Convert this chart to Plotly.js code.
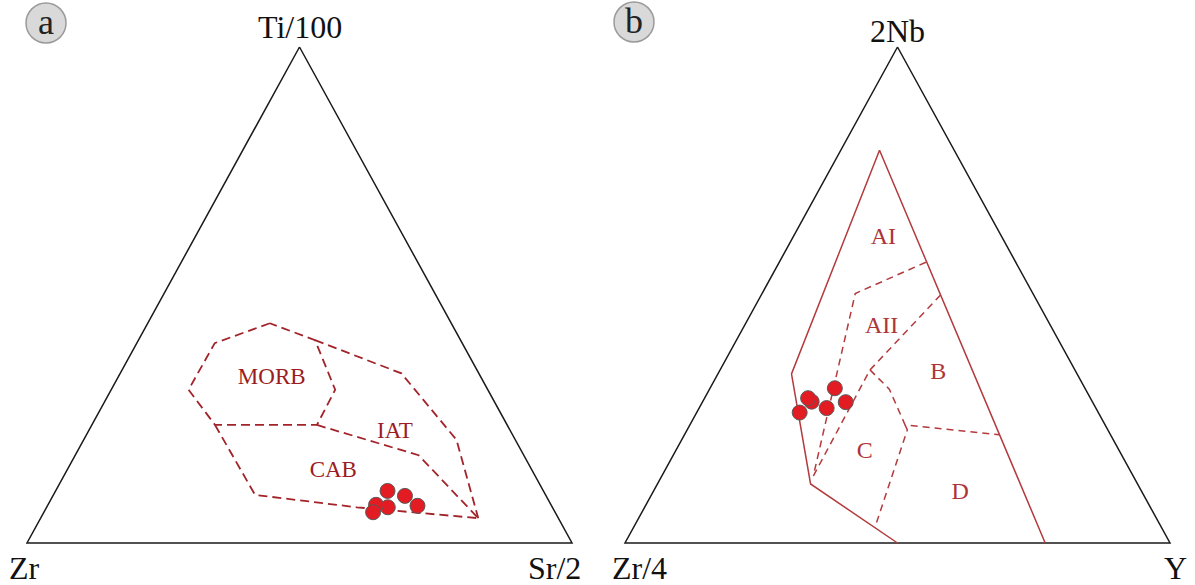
<!DOCTYPE html>
<html><head><meta charset="utf-8">
<script src="https://cdn.plot.ly/plotly-3.0.1.min.js"></script>
<style>html,body{margin:0;padding:0;background:#fff;} #chart{width:1195px;height:585px;}</style>
</head><body><div id="chart"></div>
<script>
// ---------- Panel a: Ti/100 – Zr – Sr/2 (percent: top, left, right) ----------
const cornersA = ['Ti/100', 'Zr', 'Sr/2'];
const sampleTiA = [10.5, 9.5, 7.5, 7.2, 7.7, 6.2];
const sampleZrA = [28.6, 25.9, 24.6, 30.2, 32.1, 33.4];
const sampleSrA = [60.9, 64.6, 67.9, 62.6, 60.2, 60.4];

const morbTi = [44.3, 40.3, 30.9, 23.8, 23.8, 30.9, 40.9, 44.3];
const morbZr = [33.3, 45.4, 54.9, 53.6, 34.9, 28.0, 26.7, 33.3];
const morbSr = [22.4, 14.3, 14.2, 22.6, 41.3, 41.1, 32.4, 22.4];

const iatOuterTi = [40.9, 34.2, 20.8, 5.0];
const iatOuterZr = [26.7, 14.2, 10.8, 14.7];
const iatOuterSr = [32.4, 51.6, 68.4, 80.3];

const iatCabTi = [23.8, 17.7, 5.0];
const iatCabZr = [34.9, 19.3, 14.7];
const iatCabSr = [41.3, 63.0, 80.3];

const cabOuterTi = [23.8, 9.7, 7.2, 5.0];
const cabOuterZr = [53.6, 53.3, 35.9, 14.7];
const cabOuterSr = [22.6, 37.0, 56.9, 80.3];

const fieldNamesA = ['MORB', 'IAT', 'CAB'];
const fieldTiA = [33.2, 22.4, 14.4];
const fieldZrA = [38.5, 21.3, 36.6];
const fieldSrA = [28.3, 56.3, 49.0];

// ---------- Panel b: 2Nb – Zr/4 – Y (percent: top, left, right) ----------
const cornersB = ['2Nb', 'Zr/4', 'Y'];
const sampleNbB = [31.2, 28.4, 27.2, 28.5, 29.2, 26.3];
const sampleZrB = [45.9, 45.3, 49.4, 51.5, 51.8, 54.8];
const sampleYB  = [22.9, 26.3, 23.4, 20.0, 19.0, 18.9];

// solid outline of the fields (bottom -> left -> apex -> bottom right)
const frameNb = [0.0, 11.9, 34.1, 79.2, 0.0];
const frameZr = [50.0, 60.0, 52.4, 13.7, 22.9];
const frameY  = [50.0, 28.1, 13.5, 7.1, 77.1];

// dashed boundaries
const aiAiiNb = [56.6, 50.3, 13.5];
const aiAiiZr = [16.5, 32.6, 58.7];
const aiAiiY  = [26.9, 17.1, 27.8];

const aiiBNb = [50.0, 34.9, 13.5];
const aiiBZr = [17.1, 37.6, 58.7];
const aiiBY  = [32.9, 27.5, 27.8];

const bcdNb = [34.9, 31.0, 23.8, 21.8];
const bcdZr = [37.6, 36.0, 36.7, 20.4];
const bcdY  = [27.5, 33.0, 39.5, 57.8];

const cdNb = [23.8, 22.8, 3.1];
const cdZr = [36.7, 36.8, 52.6];
const cdY  = [39.5, 40.4, 44.3];

const fieldNamesB = ['AI', 'AII', 'B', 'C', 'D'];
const fieldNbB = [61.4, 43.6, 34.2, 18.4, 10.0];
const fieldZrB = [21.9, 31.1, 25.4, 46.8, 33.5];
const fieldYB  = [16.7, 25.3, 40.4, 34.8, 56.5];

// ---------- helpers ----------
function toXY(ts, ls, rs) {
  const x = [], y = [];
  for (let i = 0; i < ts.length; i++) {
    const s = ts[i] + ls[i] + rs[i];
    const yy = ts[i] / s;
    y.push(yy);
    x.push(rs[i] / s + yy / 2);
  }
  return {x, y};
}
const W = 1195, H = 585, P = 0.03;
function xDom(px0, px1) { const w = px1 - px0; return [(px0 - P * w) / W, (px1 + P * w) / W]; }
function yDom(pb, pt) { const h = pb - pt; return [(H - pb - P * h) / H, (H - pt + P * h) / H]; }

const serif = 'Liberation Serif';
const redA = '#a3232a';
const redB = '#b33a3d';
const frameCol = '#1a1a1a';

function frameTrace(xa, ya) {
  const v = toXY([100, 0, 0, 100], [0, 100, 0, 0], [0, 0, 100, 0]);
  return {type: 'scatter', mode: 'lines', x: v.x, y: v.y, xaxis: xa, yaxis: ya,
          line: {color: frameCol, width: 1.5}, hoverinfo: 'skip'};
}
function lineTrace(p, xa, ya, color, width, dash) {
  return {type: 'scatter', mode: 'lines', x: p.x, y: p.y, xaxis: xa, yaxis: ya,
          line: {color: color, width: width, dash: dash}, hoverinfo: 'skip'};
}
function textTrace(p, names, xa, ya, color, size) {
  return {type: 'scatter', mode: 'text', x: p.x, y: p.y, text: names, xaxis: xa, yaxis: ya,
          textfont: {family: serif, size: size, color: color}, cliponaxis: false, hoverinfo: 'skip'};
}
function sampleTrace(p, xa, ya) {
  return {type: 'scatter', mode: 'markers', x: p.x, y: p.y, xaxis: xa, yaxis: ya, cliponaxis: false,
          marker: {size: 15, color: '#e31b23', line: {color: '#5a5a5a', width: 1}}};
}

const dashA = '9px,5px';
const dashB = '7px,5px';

const traces = [
  frameTrace('x', 'y'),
  lineTrace(toXY(morbTi, morbZr, morbSr), 'x', 'y', redA, 1.8, dashA),
  lineTrace(toXY(iatOuterTi, iatOuterZr, iatOuterSr), 'x', 'y', redA, 1.8, dashA),
  lineTrace(toXY(iatCabTi, iatCabZr, iatCabSr), 'x', 'y', redA, 1.8, dashA),
  lineTrace(toXY(cabOuterTi, cabOuterZr, cabOuterSr), 'x', 'y', redA, 1.8, dashA),
  textTrace(toXY(fieldTiA, fieldZrA, fieldSrA), fieldNamesA, 'x', 'y', '#9b1c22', 23),
  sampleTrace(toXY(sampleTiA, sampleZrA, sampleSrA), 'x', 'y'),

  frameTrace('x2', 'y2'),
  lineTrace(toXY(frameNb, frameZr, frameY), 'x2', 'y2', redB, 1.5, 'solid'),
  lineTrace(toXY(aiAiiNb, aiAiiZr, aiAiiY), 'x2', 'y2', redB, 1.5, dashB),
  lineTrace(toXY(aiiBNb, aiiBZr, aiiBY), 'x2', 'y2', redB, 1.5, dashB),
  lineTrace(toXY(bcdNb, bcdZr, bcdY), 'x2', 'y2', redB, 1.5, dashB),
  lineTrace(toXY(cdNb, cdZr, cdY), 'x2', 'y2', redB, 1.5, dashB),
  textTrace(toXY(fieldNbB, fieldZrB, fieldYB), fieldNamesB, 'x2', 'y2', '#ad3538', 24),
  sampleTrace(toXY(sampleNbB, sampleZrB, sampleYB), 'x2', 'y2')
];

const hiddenAxis = {range: [-P, 1 + P], showgrid: false, zeroline: false, showticklabels: false,
                    ticks: '', showline: false, fixedrange: true};

function cornerAnns(labels, xr, yr, shifts) {
  const v = toXY([100, 0, 0], [0, 100, 0], [0, 0, 100]);
  return labels.map((t, i) => ({
    text: t, x: v.x[i], y: v.y[i], xref: xr, yref: yr, showarrow: false,
    xshift: shifts[i][0], yshift: shifts[i][1], xanchor: 'center', yanchor: 'middle',
    font: {family: serif, size: 32, color: '#111'}
  }));
}

const badges = [['a', 46, 23], ['b', 634, 22]];
const shapes = badges.map(b => ({
  type: 'circle', xref: 'paper', yref: 'paper',
  x0: (b[1] - 20) / W, x1: (b[1] + 20) / W, y0: 1 - (b[2] + 20) / H, y1: 1 - (b[2] - 20) / H,
  fillcolor: '#d9d9d9', line: {color: '#9a9a9a', width: 1.5}, layer: 'below'
}));
const badgeAnns = badges.map(b => ({
  text: b[0], xref: 'paper', yref: 'paper', x: b[1] / W, y: 1 - (b[2] - 1) / H,
  showarrow: false, xanchor: 'center', yanchor: 'middle',
  font: {family: serif, size: 36, color: '#222'}
}));

const layout = {
  width: W, height: H, margin: {l: 0, r: 0, t: 0, b: 0},
  paper_bgcolor: '#fff', plot_bgcolor: 'rgba(0,0,0,0)', showlegend: false,
  xaxis: Object.assign({}, hiddenAxis, {domain: xDom(27, 572), anchor: 'y'}),
  yaxis: Object.assign({}, hiddenAxis, {domain: yDom(543, 47), anchor: 'x'}),
  xaxis2: Object.assign({}, hiddenAxis, {domain: xDom(625, 1170), anchor: 'y2'}),
  yaxis2: Object.assign({}, hiddenAxis, {domain: yDom(543, 47), anchor: 'x2'}),
  shapes: shapes,
  annotations: cornerAnns(cornersA, 'x', 'y', [[0, 20], [-3, -25], [-18, -25]])
    .concat(cornerAnns(cornersB, 'x2', 'y2', [[0, 16], [15, -25], [5, -25]]))
    .concat(badgeAnns)
};

Plotly.newPlot('chart', traces, layout, {displayModeBar: false, staticPlot: true});
</script>
</body></html>
